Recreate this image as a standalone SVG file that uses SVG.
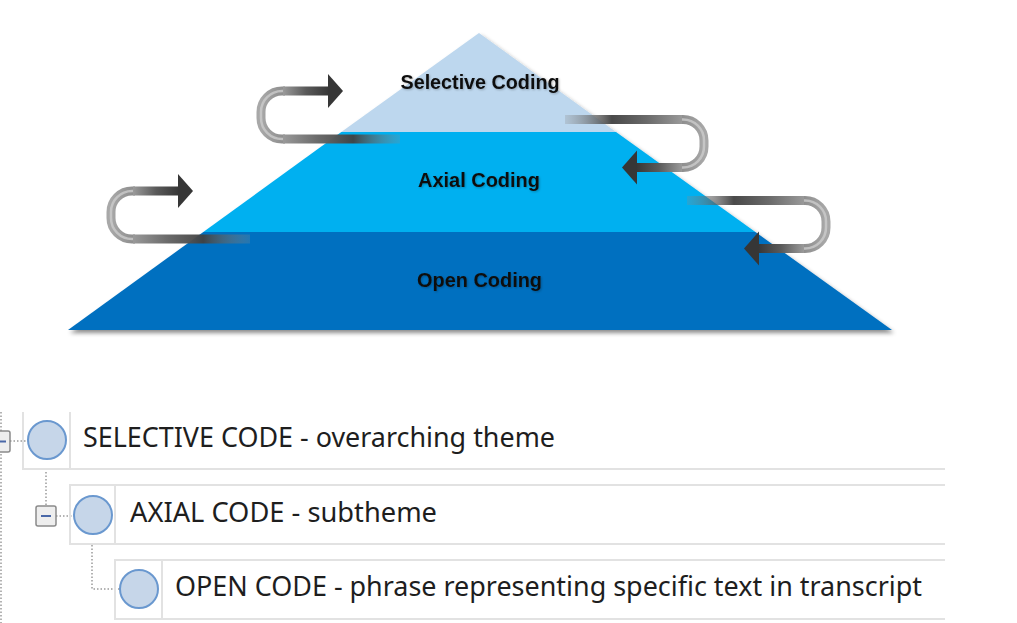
<svg xmlns="http://www.w3.org/2000/svg" width="1017" height="623" viewBox="0 0 1017 623">
<defs>
  <style>
    .lvl { font-family: "Liberation Sans Narrow", "Liberation Sans", Arial, sans-serif; font-weight: bold; font-size: 21px; fill: #111; text-anchor: middle; }
    .row { font-family: "Noto Sans", "Open Sans", "DejaVu Sans", sans-serif; font-size: 28px; fill: #1e1e1e; }
    .border { stroke: #e2e2e2; stroke-width: 2; fill: none; }
    .dot { stroke: #9a9a9a; stroke-width: 1.5; stroke-dasharray: 1.5 2; fill: none; }
    .node { fill: #c6d6e9; stroke: #6a98cf; stroke-width: 2; }
    .exp { fill: #eeeeee; stroke: #8a8a8a; stroke-width: 1.5; }
    .minus { stroke: #4a68a8; stroke-width: 2; }
  </style>
  <filter id="shadow" x="-5%" y="-5%" width="110%" height="115%">
    <feDropShadow dx="2" dy="3" stdDeviation="2" flood-color="#000" flood-opacity="0.45"/>
  </filter>
  <filter id="tshadow" x="-10%" y="-30%" width="120%" height="160%">
    <feDropShadow dx="1" dy="1" stdDeviation="0.8" flood-color="#000" flood-opacity="0.25"/>
  </filter>
  <linearGradient id="curveG" gradientUnits="userSpaceOnUse" x1="0" y1="0" x2="24" y2="0">
    <stop offset="0" stop-color="#a8a8a8"/>
    <stop offset="1" stop-color="#8c8c8c"/>
  </linearGradient>
  <linearGradient id="topG" x1="0" y1="0" x2="1" y2="0">
    <stop offset="0" stop-color="#9a9a9a"/>
    <stop offset="0.5" stop-color="#5a5a5a"/>
    <stop offset="1" stop-color="#363636"/>
  </linearGradient>
  <linearGradient id="botG" x1="0" y1="0" x2="1" y2="0">
    <stop offset="0" stop-color="#999999"/>
    <stop offset="0.3" stop-color="#6a6a6a"/>
    <stop offset="0.6" stop-color="#404040" stop-opacity="0.95"/>
    <stop offset="1" stop-color="#8a8a8a" stop-opacity="0.25"/>
  </linearGradient>
  <g id="loop">
    <path d="M 24 -24 H 21 A 21 21 0 0 0 0 -3 V 3 A 21 21 0 0 0 21 24 H 24" stroke="url(#curveG)" stroke-width="9" fill="none"/>
    <path d="M 23 -24 H 21 A 21 21 0 0 0 0 -3 V 3 A 21 21 0 0 0 21 24 H 23" stroke="#cfcfcf" stroke-width="2.5" fill="none" opacity="0.75"/>
    <rect x="22" y="-28.5" width="46" height="9" fill="url(#topG)"/>
    <polygon points="67,-41 82,-24 67,-7" fill="#363636"/>
    <rect x="22" y="19.5" width="117" height="9" fill="url(#botG)"/>
  </g>
</defs>
<rect width="1017" height="623" fill="#ffffff"/>

<g id="pyramid" filter="url(#shadow)">
  <polygon points="479,33 341.3,132 616,132" fill="#bdd7ee"/>
  <polygon points="341.3,132 616,132 755.4,232 203.3,232" fill="#00b0f0"/>
  <polygon points="203.3,232 755.4,232 892,330 68,330" fill="#0070c0"/>
</g>
<g id="level-labels" filter="url(#tshadow)">
  <text class="lvl" x="480" y="89" textLength="159" lengthAdjust="spacingAndGlyphs">Selective Coding</text>
  <text class="lvl" x="479" y="187" textLength="122" lengthAdjust="spacingAndGlyphs">Axial Coding</text>
  <text class="lvl" x="479.5" y="287" textLength="125" lengthAdjust="spacingAndGlyphs">Open Coding</text>
</g>

<g id="connectors">
  <use href="#loop" transform="translate(261,115)"/>
  <use href="#loop" transform="translate(111,215)"/>
  <use href="#loop" transform="translate(704,143.5) rotate(180)"/>
  <use href="#loop" transform="translate(826,224.5) rotate(180)"/>
  <line class="dot" x1="1" y1="412" x2="1" y2="623"/>
  <line class="dot" x1="10" y1="441" x2="28" y2="441"/>
  <line class="dot" x1="46" y1="472" x2="46" y2="506"/>
  <line class="dot" x1="56" y1="516" x2="74" y2="516"/>
  <polyline class="dot" points="92,545 92,589 120,589"/>
</g>

<g id="node-selective">
  <polyline class="border" points="23,412 23,469 945,469"/>
  <line class="border" x1="70" y1="412" x2="70" y2="469"/>
  <rect class="exp" x="-11" y="431" width="21" height="21" rx="2"/>
  <line class="minus" x1="-6" y1="441.5" x2="6" y2="441.5"/>
  <circle class="node" cx="47" cy="440" r="19"/>
  <text class="row" x="83" y="447" textLength="472" lengthAdjust="spacingAndGlyphs">SELECTIVE CODE - overarching theme</text>
</g>

<g id="node-axial">
  <polyline class="border" points="945,485 70,485 70,544 945,544"/>
  <line class="border" x1="115" y1="485" x2="115" y2="544"/>
  <rect class="exp" x="36" y="506" width="20" height="20" rx="2"/>
  <line class="minus" x1="41" y1="516" x2="51" y2="516"/>
  <circle class="node" cx="93" cy="515" r="19"/>
  <text class="row" x="130" y="522" textLength="307" lengthAdjust="spacingAndGlyphs">AXIAL CODE - subtheme</text>
</g>

<g id="node-open">
  <polyline class="border" points="945,560 115,560 115,619 945,619"/>
  <line class="border" x1="162" y1="560" x2="162" y2="619"/>
  <circle class="node" cx="139" cy="589" r="19"/>
  <text class="row" x="175" y="596" textLength="747" lengthAdjust="spacingAndGlyphs">OPEN CODE - phrase representing specific text in transcript</text>
</g>
</svg>
